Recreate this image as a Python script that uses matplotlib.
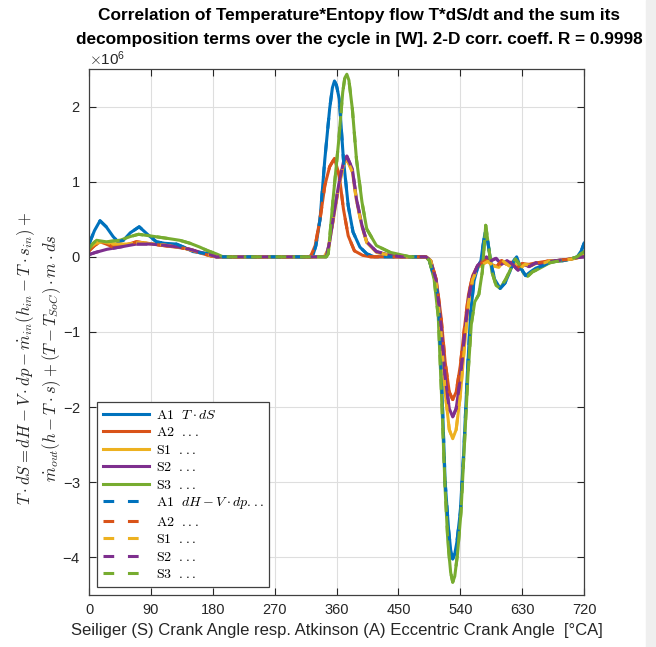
import numpy as np
import matplotlib
matplotlib.use('Agg')
import matplotlib.pyplot as plt
from matplotlib.ticker import ScalarFormatter

plt.rcParams['font.family'] = ['Liberation Sans', 'DejaVu Sans']
plt.rcParams['mathtext.fontset'] = 'cm'
plt.rcParams['axes.unicode_minus'] = False

# crank angle [deg CA], value [W] in units of 1e6
A1 = [(0, 0.17), (8, 0.35), (16, 0.48), (25, 0.40), (35, 0.27), (42, 0.20), (50, 0.22),
      (60, 0.32), (73, 0.40), (85, 0.30), (98, 0.20), (110, 0.18), (127, 0.17), (140, 0.12),
      (151, 0.07), (165, 0.05), (176, 0.04), (185, 0.0), (325, 0.0), (330, 0.15), (336, 0.5),
      (343, 1.3), (350, 1.97), (354, 2.25), (357, 2.34), (360, 2.28), (364, 2.1), (370, 1.3),
      (377, 0.68), (384, 0.33), (394, 0.13), (404, 0.04), (415, 0.0), (490, 0.0), (495, -0.05),
      (503, -0.3), (508, -0.56), (513, -1.7), (518, -3.0), (523, -3.63), (526, -3.9),
      (529, -4.02), (532, -3.95), (535, -3.8), (540, -3.4), (545, -2.6), (550, -1.6),
      (555, -0.75), (560, -0.32), (565, -0.15), (570, -0.05), (573, 0.15), (576, 0.32),
      (580, 0.2), (585, -0.1), (590, -0.3), (598, -0.42), (605, -0.35), (612, -0.2),
      (618, -0.05), (622, 0.0), (628, -0.15), (635, -0.25), (642, -0.2), (650, -0.15),
      (660, -0.12), (670, -0.07), (680, -0.06), (690, -0.05), (700, -0.03), (710, 0.0),
      (716, 0.08), (720, 0.18)]
A2 = [(0, 0.08), (8, 0.15), (16, 0.2), (25, 0.17), (35, 0.13), (50, 0.15), (69, 0.2),
      (85, 0.18), (108, 0.15), (125, 0.13), (142, 0.11), (155, 0.07), (166, 0.04),
      (178, 0.01), (185, 0.0), (322, 0.0), (329, 0.15), (336, 0.5), (343, 0.95), (350, 1.2),
      (357, 1.31), (364, 1.08), (370, 0.64), (377, 0.28), (386, 0.08), (398, 0.02), (410, 0.0),
      (490, 0.0), (497, -0.05), (505, -0.3), (512, -0.8), (518, -1.4), (524, -1.8),
      (529, -1.9), (534, -1.8), (540, -1.45), (546, -0.95), (552, -0.5), (558, -0.25),
      (565, -0.12), (572, -0.08), (578, -0.04), (585, -0.1), (593, -0.13), (600, -0.05),
      (607, -0.1), (614, -0.07), (622, -0.15), (630, -0.09), (640, -0.1), (650, -0.08),
      (660, -0.07), (670, -0.05), (680, -0.05), (690, -0.04), (700, -0.03), (710, -0.01),
      (720, 0.02)]
S1 = [(0, 0.12), (10, 0.18), (20, 0.2), (35, 0.17), (55, 0.17), (75, 0.19), (95, 0.17),
      (115, 0.15), (135, 0.12), (150, 0.09), (165, 0.05), (180, 0.01), (190, 0.0), (342, 0.0),
      (348, 0.1), (355, 0.48), (363, 0.92), (370, 1.22), (375, 1.3), (383, 1.13), (389, 0.75),
      (397, 0.4), (404, 0.19), (418, 0.06), (438, 0.02), (455, 0.0), (490, 0.0), (497, -0.05),
      (505, -0.35), (512, -1.0), (518, -1.8), (524, -2.3), (529, -2.42), (534, -2.3),
      (540, -1.85), (546, -1.2), (552, -0.6), (558, -0.3), (565, -0.15), (572, -0.1),
      (580, -0.06), (588, -0.12), (596, -0.14), (603, -0.06), (611, -0.12), (618, -0.08),
      (626, -0.16), (634, -0.1), (643, -0.12), (652, -0.08), (662, -0.08), (672, -0.05),
      (682, -0.05), (692, -0.04), (702, -0.03), (712, -0.01), (720, 0.03)]
S2 = [(0, 0.03), (10, 0.06), (26, 0.10), (45, 0.13), (69, 0.17), (90, 0.17), (113, 0.15),
      (130, 0.13), (147, 0.10), (162, 0.06), (175, 0.03), (185, 0.0), (345, 0.0), (350, 0.2),
      (355, 0.5), (363, 0.95), (370, 1.26), (375, 1.34), (383, 1.17), (389, 0.77), (397, 0.42),
      (404, 0.2), (418, 0.07), (438, 0.02), (455, 0.0), (490, 0.0), (497, -0.05), (505, -0.32),
      (512, -0.9), (518, -1.6), (524, -2.02), (529, -2.13), (534, -2.02), (540, -1.62),
      (546, -1.05), (552, -0.55), (558, -0.27), (565, -0.12), (572, -0.05), (578, 0.0),
      (585, -0.05), (592, -0.02), (600, -0.1), (608, -0.05), (616, -0.1), (624, -0.18),
      (632, -0.1), (640, -0.13), (650, -0.08), (660, -0.1), (670, -0.06), (680, -0.05),
      (690, -0.04), (700, -0.03), (710, -0.01), (720, 0.0)]
S3 = [(0, 0.10), (5, 0.17), (11, 0.22), (25, 0.2), (45, 0.22), (60, 0.27), (72, 0.30),
      (88, 0.28), (103, 0.26), (118, 0.24), (132, 0.22), (147, 0.18), (161, 0.13), (173, 0.08),
      (185, 0.04), (195, 0.0), (345, 0.0), (348, 0.04), (355, 0.77), (363, 1.53), (369, 2.19),
      (372, 2.38), (375, 2.43), (378, 2.35), (383, 1.97), (389, 1.3), (397, 0.73), (404, 0.37),
      (418, 0.15), (438, 0.06), (467, 0.0), (490, 0.0), (495, -0.05), (502, -0.3), (508, -0.8),
      (513, -1.9), (518, -3.1), (522, -3.8), (526, -4.2), (529, -4.33), (532, -4.25),
      (536, -3.95), (541, -3.4), (546, -2.5), (551, -1.6), (556, -0.9), (561, -0.6),
      (567, -0.5), (572, -0.2), (577, 0.42), (581, 0.15), (586, -0.2), (592, -0.38),
      (598, -0.42), (606, -0.3), (614, -0.15), (620, -0.03), (626, -0.1), (632, -0.22),
      (638, -0.26), (645, -0.2), (652, -0.17), (660, -0.13), (670, -0.08), (680, -0.06),
      (690, -0.05), (700, -0.03), (710, 0.0), (720, 0.07)]

names = ['A1', 'A2', 'S1', 'S2', 'S3']
series = [A1, A2, S1, S2, S3]
colors = ['#0072BD', '#D95319', '#EDB120', '#7E2F8E', '#77AC30']
solid_labels = [r'$\mathrm{A1}\ \ T \cdot dS$', r'$\mathrm{A2}\ \ ...$', r'$\mathrm{S1}\ \ ...$',
                r'$\mathrm{S2}\ \ ...$', r'$\mathrm{S3}\ \ ...$']
dash_labels = [r'$\mathrm{A1}\ \ dH - V \cdot dp ...$', r'$\mathrm{A2}\ \ ...$',
               r'$\mathrm{S1}\ \ ...$', r'$\mathrm{S2}\ \ ...$', r'$\mathrm{S3}\ \ ...$']

fig = plt.figure(figsize=(6.56, 6.47), dpi=100)
ax = fig.add_axes([0.1357, 0.0804, 0.7546, 0.813])

for s, c, lab in zip(series, colors, solid_labels):
    d = np.array(s)
    ax.plot(d[:, 0], d[:, 1] * 1e6, color=c, lw=2.2, label=lab)
# decomposition sum, practically identical to T*dS (R = 0.9998)
for s, c, lab in zip(series, colors, dash_labels):
    d = np.array(s)
    ax.plot(d[:, 0], d[:, 1] * 1e6, color=c, lw=2.2, ls=(0, (3.5, 4.5)), label=lab)

ax.set_xlim(0, 720)
ax.set_ylim(-4.5e6, 2.5e6)
ax.set_xticks(np.arange(0, 721, 90))
ax.set_yticks(np.arange(-4, 3, 1) * 1e6)
fmt = ScalarFormatter(useMathText=True)
fmt.set_powerlimits((0, 0))
ax.yaxis.set_major_formatter(fmt)
ax.yaxis.get_offset_text().set_fontsize(11)
ax.yaxis.get_offset_text().set_color('#262626')

ax.grid(True, color='#dedede', lw=0.8)
ax.set_axisbelow(True)
ax.tick_params(direction='in', top=True, right=True, labelsize=10.5,
               colors='#262626', length=5, pad=6)
for sp in ax.spines.values():
    sp.set_edgecolor('#404040')
    sp.set_linewidth(0.9)

ax.set_xlabel(r'Seiliger (S) Crank Angle resp. Atkinson (A) Eccentric Crank Angle  [°CA]',
              fontsize=12, color='#262626', labelpad=4)
ax.set_ylabel(r'$T \cdot dS = dH - V \cdot dp - \dot{m}_{in}(h_{in} - T \cdot s_{in}) +$' + '\n'
              + r'$\dot{m}_{out}(h - T \cdot s) + (T - T_{SoC}) \cdot m \cdot ds$',
              fontsize=12, color='#262626')
ax.yaxis.set_label_coords(-0.052, 0.45)

fig.suptitle('Correlation of Temperature*Entopy flow T*dS/dt and the sum its\n'
             'decomposition terms over the cycle in [W]. 2-D corr. coeff. R = 0.9998',
             x=0.548, y=0.988, fontsize=12.4, fontweight='bold', linespacing=1.75)

leg = ax.legend(loc='lower left', fontsize=10, handlelength=3.3, labelspacing=0.25,
                fancybox=False, framealpha=1, edgecolor='#404040', borderpad=0.4,
                handletextpad=0.5, borderaxespad=0.6)
leg.get_frame().set_linewidth(0.9)

fig.patches.append(plt.Rectangle((0.985, 0), 0.015, 1, transform=fig.transFigure,
                                 color='#efefef', zorder=-1))

fig.savefig('out.png', dpi=100)
